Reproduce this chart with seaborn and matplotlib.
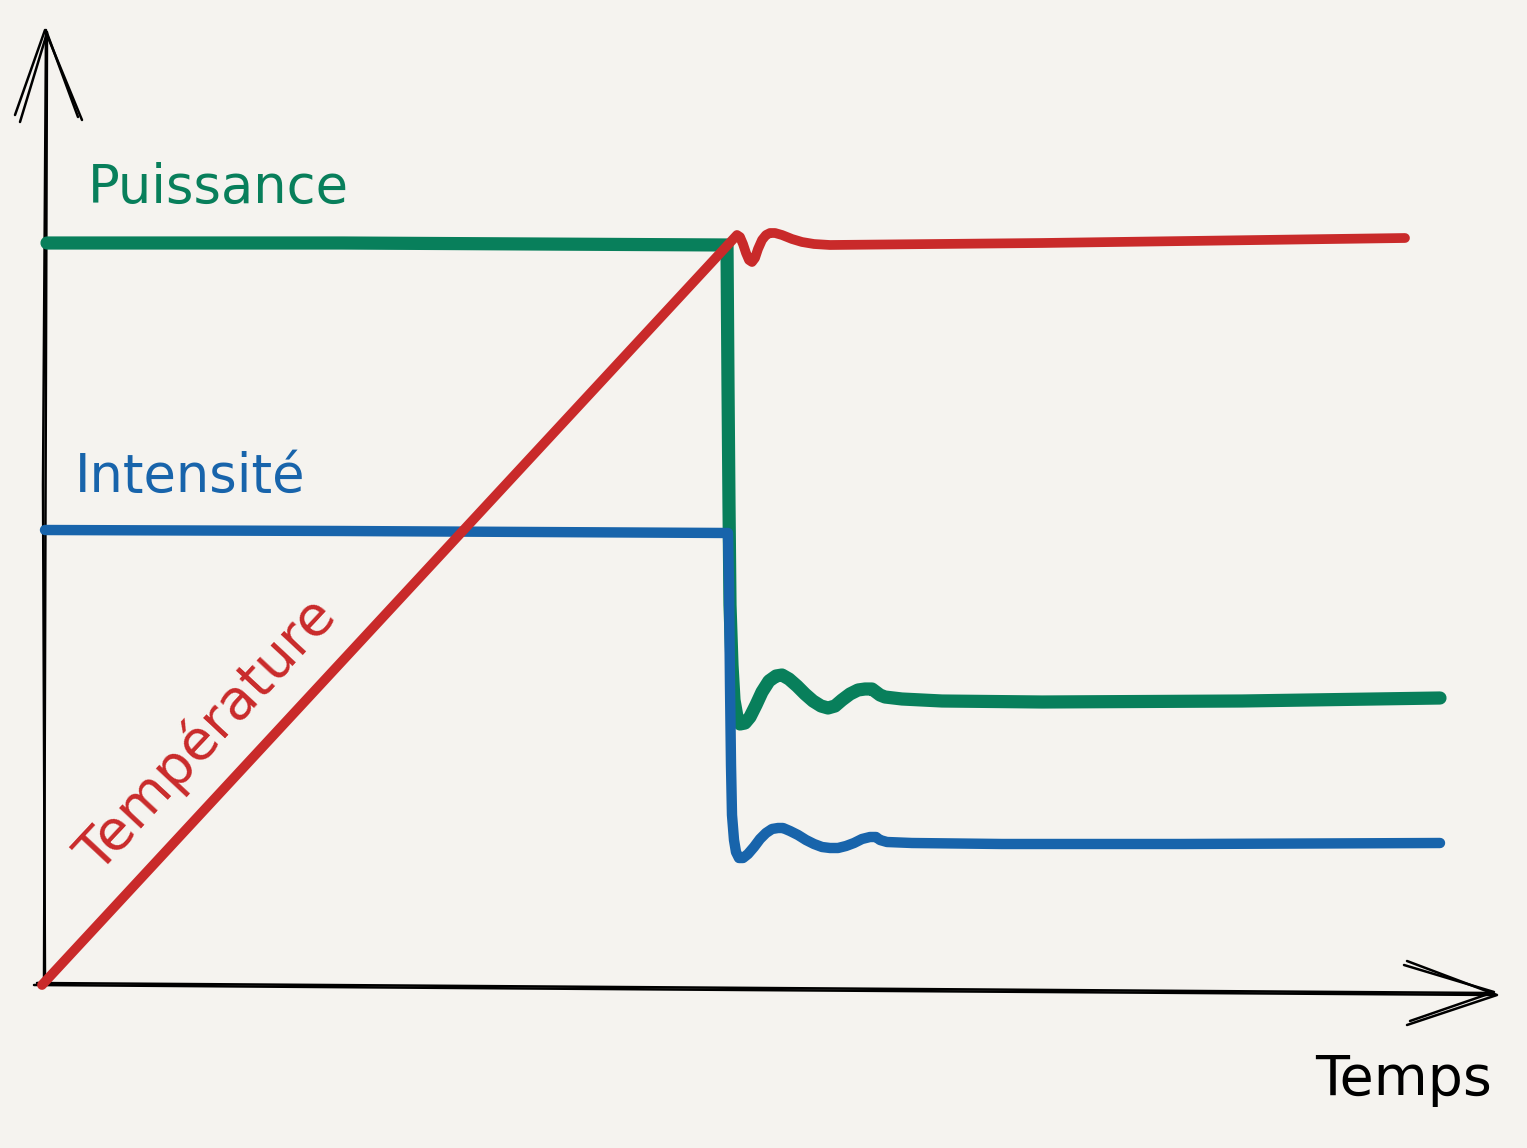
import matplotlib
matplotlib.use("Agg")
import matplotlib.pyplot as plt
import seaborn as sns
import pandas as pd

# values (x = time units, y = level units, origin at the axes corner)
puissance_t = [5, 300, 685, 686, 687, 688, 690, 692, 695, 698, 703, 708, 714, 720, 727, 734, 740,
               747, 755, 763, 771, 779, 786, 793, 800, 808, 816, 823, 830, 834, 838, 843, 860, 900,
               1000, 1200, 1398]
puissance_v = [742, 742, 740, 600, 480, 380, 320, 285, 268, 261, 262, 268, 280, 293, 304, 309, 310,
               306, 299, 291, 284, 279, 277, 279, 285, 291, 295, 296, 296, 293, 290, 288, 286, 284,
               283, 284, 287]

intensite_t = [3, 300, 686, 687, 688, 689, 690, 692, 694, 697, 701, 706, 712, 718, 724, 730, 736,
               741, 748, 756, 764, 772, 780, 788, 796, 804, 812, 820, 828, 834, 838, 845, 870, 960,
               1140, 1398]
intensite_v = [455, 454, 452, 400, 300, 220, 170, 145, 133, 127, 127, 131, 138, 146, 152, 156, 157,
               157, 154, 150, 145, 141, 138, 137, 137, 139, 142, 146, 148, 148, 145, 143, 142, 141,
               141, 142]

temperature_t = [0, 695, 698, 701, 704, 707, 710, 713, 716, 720, 724, 728, 733, 740, 750, 760,
                 772, 788, 1000, 1363]
temperature_v = [0, 750, 748, 741, 732, 725, 723, 727, 736, 745, 750, 752, 752, 750, 746, 743,
                 741, 740, 742, 747]

series = {
    "Puissance": (puissance_t, puissance_v, "#087f5b", 9.5),
    "Intensité": (intensite_t, intensite_v, "#1864ab", 7.5),
    "Température": (temperature_t, temperature_v, "#c92a2a", 7.0),
}

bg = "#f5f3ef"
sns.set_theme(style="white", rc={"figure.facecolor": bg, "axes.facecolor": bg})
plt.rcParams["font.family"] = ["DejaVu Sans"]

fig = plt.figure(figsize=(15.27, 11.48), dpi=100)
ax = fig.add_axes([0, 0, 1, 1])
ax.set_xlim(-42, 1485)
ax.set_ylim(-163, 985)
ax.axis("off")

for name, (t, v, col, lw) in series.items():
    df = pd.DataFrame({"t": t, "v": v})
    sns.lineplot(data=df, x="t", y="v", sort=False, color=col, lw=lw,
                 solid_capstyle="round", solid_joinstyle="round", ax=ax, zorder=3)

# hand-drawn axes
k = dict(color="black", lw=1.8, solid_capstyle="round", zorder=2)
ax.plot([3, 1, 4], [0, 500, 955], **k)
ax.plot([2, 5], [0, 953], **k)
ax.plot([-8, 700, 1453], [0, -5, -10], **k)
ax.plot([-5, 1450], [2, -8], **k)
# arrow heads
ax.plot([-27, 3, 40], [870, 955, 865], **k)
ax.plot([-22, 5, 36], [863, 952, 868], **k)
ax.plot([1365, 1455, 1365], [24, -10, -40], **k)
ax.plot([1362, 1452, 1368], [20, -7, -36], **k)

# labels
ax.text(46, 797, "Puissance", color="#087f5b", fontsize=38, va="center")
ax.text(33, 508, "Intensité", color="#1864ab", fontsize=38, va="center")
ax.text(165, 250, "Température", color="#c92a2a", fontsize=40, va="center", ha="center",
        rotation=47, rotation_mode="anchor")
ax.text(1273, -95, "Temps", color="black", fontsize=40, va="center")

fig.savefig("out.png", dpi=100, facecolor=bg)
